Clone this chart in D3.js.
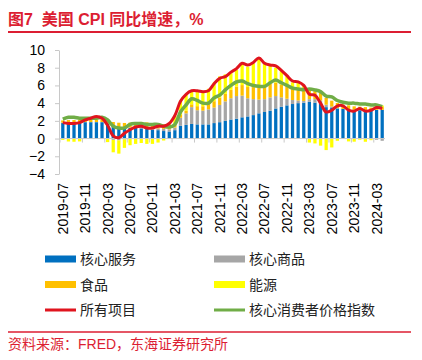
<!DOCTYPE html>
<html>
<head>
<meta charset="utf-8">
<script src="https://cdn.jsdelivr.net/npm/d3@7"></script>
<style>
  body { margin: 0; background: #fff; }
  text { font-family: Arial, "Liberation Sans", "Noto Sans CJK SC", sans-serif; }
</style>
</head>
<body>
<div id="chart"></div>
<script>
// monthly categories, 2019-07 .. 2024-04
var months = [
  "2019-07","2019-08","2019-09","2019-10","2019-11","2019-12",
  "2020-01","2020-02","2020-03","2020-04","2020-05","2020-06","2020-07","2020-08","2020-09","2020-10","2020-11","2020-12",
  "2021-01","2021-02","2021-03","2021-04","2021-05","2021-06","2021-07","2021-08","2021-09","2021-10","2021-11","2021-12",
  "2022-01","2022-02","2022-03","2022-04","2022-05","2022-06","2022-07","2022-08","2022-09","2022-10","2022-11","2022-12",
  "2023-01","2023-02","2023-03","2023-04","2023-05","2023-06","2023-07","2023-08","2023-09","2023-10","2023-11","2023-12",
  "2024-01","2024-02","2024-03","2024-04"
];
var tickLabels = ["2019-07","2019-11","2020-03","2020-07","2020-11","2021-03","2021-07","2021-11",
  "2022-03","2022-07","2022-11","2023-03","2023-07","2023-11","2024-03"];
var yTicks = [-4, -2, 0, 2, 4, 6, 8, 10];

// contributions, percentage points
var coreServices = [
  1.75,1.80,1.80,1.80,1.85,1.85,
  1.85,1.85,1.70,1.40,1.25,1.15,1.20,1.20,1.15,1.10,1.00,0.95,
  0.85,0.80,0.95,1.45,1.55,1.65,1.60,1.60,1.60,1.75,1.85,2.00,
  2.15,2.25,2.40,2.50,2.65,2.85,3.00,3.15,3.40,3.60,3.75,3.90,
  4.00,4.05,4.15,4.05,3.90,3.55,3.45,3.40,3.35,3.30,3.25,3.20,
  3.20,3.20,3.25,3.25
];
var coreGoods = [
  0.05,0.05,0.05,0.05,0.03,0.02,
  0.02,0.02,0.01,-0.15,-0.20,-0.10,0.05,0.10,0.20,0.20,0.20,0.20,
  0.25,0.25,0.30,0.90,1.30,1.90,1.60,1.55,1.70,1.75,1.95,2.20,
  2.40,2.55,2.45,2.05,1.80,1.55,1.45,1.50,1.40,1.05,0.75,0.45,
  0.30,0.20,0.30,0.40,0.40,0.27,0.17,0.04,0.00,-0.02,0.00,0.04,
  -0.06,-0.06,-0.14,-0.25
];
var food = [
  0.25,0.24,0.24,0.28,0.27,0.24,
  0.25,0.25,0.26,0.47,0.54,0.61,0.55,0.55,0.53,0.53,0.50,0.53,
  0.51,0.49,0.47,0.32,0.30,0.32,0.46,0.50,0.62,0.72,0.82,0.85,
  0.95,1.07,1.19,1.27,1.36,1.40,1.47,1.54,1.51,1.47,1.43,1.40,
  1.36,1.28,1.15,1.04,0.90,0.77,0.66,0.58,0.50,0.45,0.39,0.36,
  0.35,0.30,0.30,0.30
];
var energy = [
  -0.15,-0.33,-0.36,-0.32,-0.05,0.25,
  0.45,0.20,-0.40,-1.40,-1.50,-0.95,-0.75,-0.60,-0.50,-0.60,-0.60,-0.45,
  -0.22,0.15,0.85,1.60,1.85,1.60,1.60,1.70,1.70,2.10,2.40,2.20,
  2.00,1.90,2.40,2.30,2.70,3.30,2.70,2.00,1.70,1.50,1.10,0.60,
  0.70,0.40,-0.45,-0.55,-0.80,-1.30,-1.00,-0.25,-0.03,-0.30,-0.35,-0.13,
  -0.30,-0.12,0.14,0.18
];
// YoY, %
var allItems = [
  1.8,1.7,1.7,1.8,2.1,2.3,
  2.5,2.3,1.5,0.3,0.1,0.6,1.0,1.3,1.4,1.2,1.2,1.4,
  1.4,1.7,2.6,4.2,5.0,5.4,5.4,5.3,5.4,6.2,6.8,7.0,
  7.5,7.9,8.5,8.3,8.6,9.1,8.5,8.3,8.2,7.7,7.1,6.5,
  6.4,6.0,5.0,4.9,4.0,3.0,3.2,3.7,3.7,3.2,3.1,3.4,
  3.1,3.2,3.5,3.4
];
var coreCPI = [
  2.2,2.4,2.4,2.3,2.3,2.3,
  2.3,2.4,2.1,1.4,1.2,1.2,1.6,1.7,1.7,1.6,1.6,1.6,
  1.4,1.3,1.6,3.0,3.8,4.5,4.3,4.0,4.0,4.6,4.9,5.5,
  6.0,6.4,6.5,6.2,6.0,5.9,5.9,6.3,6.6,6.3,6.0,5.7,
  5.6,5.5,5.6,5.5,5.3,4.8,4.7,4.3,4.1,4.0,4.0,3.9,
  3.9,3.8,3.8,3.6
];

var red = "#dc1e32";
var svgWidth = 422, svgHeight = 360;
var plot = { left: 60, right: 385, top: 50, bottom: 174 };

var svg = d3.select("#chart").append("svg")
  .attr("width", svgWidth)
  .attr("height", svgHeight);

// title + rule
svg.append("text")
  .attr("x", 8).attr("y", 25)
  .attr("fill", red)
  .attr("font-size", 16).attr("font-weight", "bold")
  .style("white-space", "pre")
  .text("图7  美国 CPI 同比增速，%");
svg.append("line")
  .attr("x1", 8).attr("x2", 411).attr("y1", 32).attr("y2", 32)
  .attr("stroke", red).attr("stroke-width", 2);

// scales
var x = d3.scaleBand()
  .domain(months)
  .range([plot.left, plot.right])
  .paddingInner(0.42)
  .paddingOuter(0.21);
var y = d3.scaleLinear().domain([-4, 10]).range([plot.bottom, plot.top]);
var cx = function(m) { return x(m) + x.bandwidth() / 2; };

// y axis
var yAxis = svg.append("g")
  .attr("transform", `translate(${plot.left - 1},0)`)
  .call(d3.axisLeft(y).tickValues(yTicks).tickSize(4).tickPadding(10).tickSizeOuter(0));
yAxis.select(".domain").attr("stroke", "#c8c8c8");
yAxis.selectAll(".tick line").attr("stroke", "#c8c8c8");
yAxis.selectAll("text").attr("font-size", 14).attr("fill", "#000")
  .attr("font-family", "Arial, 'Liberation Sans', sans-serif");

// stacked bars
var rows = months.map(function(m, i) {
  return { month: m, serv: coreServices[i], goods: coreGoods[i], food: food[i], energy: energy[i] };
});
var keys = ["serv", "goods", "food", "energy"];
var colors = { serv: "#0070c0", goods: "#a6a6a6", food: "#ffc000", energy: "#ffff00" };
var series = d3.stack().keys(keys).offset(d3.stackOffsetDiverging)(rows);

svg.append("g").selectAll("g")
  .data(series)
  .enter().append("g")
  .attr("fill", d => colors[d.key])
  .selectAll("rect")
  .data(d => d)
  .enter().append("rect")
  .attr("x", d => x(d.data.month))
  .attr("width", x.bandwidth())
  .attr("y", d => y(Math.max(d[0], d[1])))
  .attr("height", d => Math.abs(y(d[0]) - y(d[1])));

// zero axis with ticks every 4 months
svg.append("line")
  .attr("x1", plot.left).attr("x2", plot.right)
  .attr("y1", y(0)).attr("y2", y(0))
  .attr("stroke", "#c8c8c8");
svg.append("g").selectAll("line")
  .data(tickLabels)
  .enter().append("line")
  .attr("x1", d => x(d) - (x.step() - x.bandwidth()) / 2)
  .attr("x2", d => x(d) - (x.step() - x.bandwidth()) / 2)
  .attr("y1", y(0)).attr("y2", y(0) + 4)
  .attr("stroke", "#c8c8c8");

// x labels
svg.append("g").selectAll("text")
  .data(tickLabels)
  .enter().append("text")
  .attr("transform", d => `translate(${cx(d)},183) rotate(-90)`)
  .attr("text-anchor", "end")
  .attr("dy", "0.35em")
  .attr("font-size", 14)
  .attr("fill", "#000")
  .text(d => d);

// lines
var line = function(vals) {
  return d3.line()
    .x((d, i) => cx(months[i]))
    .y(d => y(d))
    .curve(d3.curveCatmullRom.alpha(0.5))(vals);
};
svg.append("path")
  .attr("d", line(coreCPI))
  .attr("fill", "none")
  .attr("stroke", "#70ad47")
  .attr("stroke-width", 3.5);
svg.append("path")
  .attr("d", line(allItems))
  .attr("fill", "none")
  .attr("stroke", "#e0141e")
  .attr("stroke-width", 3);

// legend
var legendItems = [
  { label: "核心服务", color: "#0070c0", type: "bar", col: 0, row: 0 },
  { label: "核心商品", color: "#a6a6a6", type: "bar", col: 1, row: 0 },
  { label: "食品", color: "#ffc000", type: "bar", col: 0, row: 1 },
  { label: "能源", color: "#ffff00", type: "bar", col: 1, row: 1 },
  { label: "所有项目", color: "#e0141e", type: "line", col: 0, row: 2 },
  { label: "核心消费者价格指数", color: "#70ad47", type: "line", col: 1, row: 2 }
];
var legend = svg.append("g").selectAll("g")
  .data(legendItems)
  .enter().append("g")
  .attr("transform", d => `translate(${d.col ? 214 : 45},${259 + d.row * 25.5})`);
legend.append("rect")
  .attr("x", 0).attr("width", 31)
  .attr("y", d => d.type === "bar" ? -3.5 : -1.5)
  .attr("height", d => d.type === "bar" ? 7 : 3)
  .attr("fill", d => d.color);
legend.append("text")
  .attr("x", 35).attr("dy", "0.36em")
  .attr("font-size", 14)
  .attr("fill", "#222")
  .text(d => d.label);

// source
svg.append("line")
  .attr("x1", 8).attr("x2", 411).attr("y1", 332).attr("y2", 332)
  .attr("stroke", red).attr("stroke-width", 1.5);
svg.append("text")
  .attr("x", 8).attr("y", 349)
  .attr("fill", red)
  .attr("font-size", 14)
  .text("资料来源：FRED，东海证券研究所");
</script>
</body>
</html>
